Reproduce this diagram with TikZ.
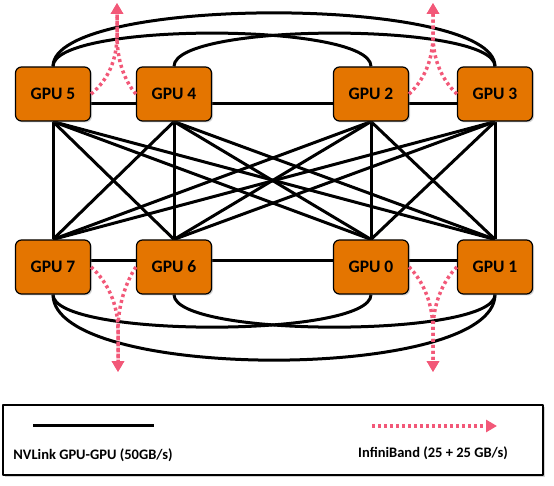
\documentclass[tikz,border=0pt]{standalone}
\usepackage{fontspec}
\setmainfont{Carlito}
\usetikzlibrary{arrows.meta,shadows,backgrounds}
\tikzset{
  gpu/.style={draw=black, line width=1.2pt, fill=gpuorange, rounded corners=6pt,
    minimum width=75pt, minimum height=54pt, inner sep=0pt,
    font=\fontsize{17.5}{19}\selectfont\bfseries,
    drop shadow={opacity=0.35, shadow xshift=1.5pt, shadow yshift=-1.5pt}},
  nvlink/.style={line width=3pt, black},
  ib/.style={line width=3.5pt, ibpink, dash pattern=on 3pt off 3pt,
    -{Triangle[length=11pt,width=12pt]}},
  legtext/.style={font=\fontsize{14.5}{16}\selectfont\bfseries}
}
\begin{document}
\begin{tikzpicture}[x=1pt, y=-1pt, line join=round]
  \definecolor{gpuorange}{RGB}{228,117,0}
  \definecolor{ibpink}{RGB}{242,88,120}
  \useasboundingbox (0,0) rectangle (554,486);
  % gpus
  \node[gpu] (g5) at (53,94) {GPU 5};
  \node[gpu] (g4) at (174,94) {GPU 4};
  \node[gpu] (g2) at (371,94) {GPU 2};
  \node[gpu] (g3) at (495,94) {GPU 3};
  \node[gpu] (g7) at (53,267) {GPU 7};
  \node[gpu] (g6) at (174,267) {GPU 6};
  \node[gpu] (g0) at (371,267) {GPU 0};
  \node[gpu] (g1) at (495,267) {GPU 1};
  \coordinate (ibtl) at (117,3);
  \coordinate (ibtr) at (433,3);
  \coordinate (ibbl) at (118,372);
  \coordinate (ibbr) at (433,372);
  \begin{scope}[on background layer]
    % nvlink mesh
    \foreach \t in {g5,g4,g2,g3}
      \foreach \b in {g7,g6,g0,g1}
        \draw[nvlink] (\t.south) -- (\b.north);
    \draw[nvlink] ([yshift=-10pt]g5.east) -- ([yshift=-10pt]g4.west);
    \draw[nvlink] ([yshift=-10pt]g4.east) -- ([yshift=-10pt]g2.west);
    \draw[nvlink] ([yshift=-10pt]g2.east) -- ([yshift=-10pt]g3.west);
    \draw[nvlink] ([yshift=6pt]g7.east) -- ([yshift=6pt]g6.west);
    \draw[nvlink] ([yshift=6pt]g6.east) -- ([yshift=6pt]g0.west);
    \draw[nvlink] ([yshift=6pt]g0.east) -- ([yshift=6pt]g1.west);
    % arcs
    \draw[nvlink] (g5.north) .. controls (53,-5) and (495,-5) .. (g3.north);
    \draw[nvlink] (g5.north) .. controls (53,22) and (371,22) .. (g2.north);
    \draw[nvlink] (g4.north) .. controls (174,22) and (495,22) .. (g3.north);
    \draw[nvlink] (g7.south) .. controls (53,382) and (495,382) .. (g1.south);
    \draw[nvlink] (g7.south) .. controls (53,338) and (371,338) .. (g0.south);
    \draw[nvlink] (g6.south) .. controls (174,338) and (495,338) .. (g1.south);
  \end{scope}
  % infiniband
  \draw[ib] (g5.east) .. controls (108,80) and (117,60) .. (117,35) -- (ibtl);
  \draw[ib] (g4.west) .. controls (124,80) and (117,60) .. (117,35) -- (ibtl);
  \draw[ib] (g2.east) .. controls (424,80) and (433,60) .. (433,35) -- (ibtr);
  \draw[ib] (g3.west) .. controls (442,80) and (433,60) .. (433,35) -- (ibtr);
  \draw[ib] (g7.east) .. controls (108,282) and (118,305) .. (118,330) -- (ibbl);
  \draw[ib] (g6.west) .. controls (126,282) and (118,305) .. (118,330) -- (ibbl);
  \draw[ib] (g0.east) .. controls (424,282) and (433,305) .. (433,330) -- (ibbr);
  \draw[ib] (g1.west) .. controls (442,282) and (433,305) .. (433,330) -- (ibbr);
  % legend
  \node[draw, line width=1.5pt, fill=white, minimum width=540pt, minimum height=70pt,
    drop shadow={opacity=0.35, shadow xshift=1.5pt, shadow yshift=-1.5pt}] (legend) at (273,440) {};
  \coordinate (nvA) at (33,425);
  \coordinate (nvB) at (154,425);
  \coordinate (ibA) at (372,426);
  \coordinate (ibB) at (497,426);
  \draw[nvlink] (nvA) -- (nvB);
  \draw[ib] (ibA) -- (ibB);
  \node[legtext] (nvtext) at (93,455) {NVLink GPU-GPU (50GB/s)};
  \node[legtext] (ibtext) at (433,453) {InfiniBand (25 + 25 GB/s)};
\end{tikzpicture}
\end{document}
